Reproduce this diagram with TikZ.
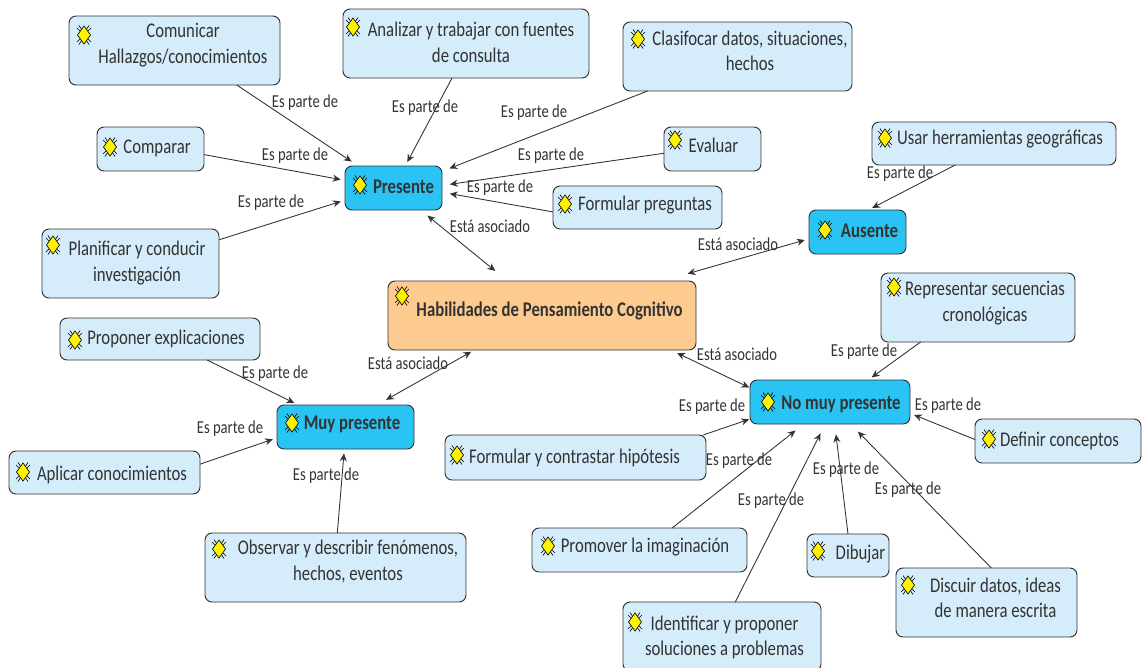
\documentclass[tikz,border=0pt]{standalone}
\usepackage{fontspec}
\setmainfont[FakeStretch=0.8]{Carlito}
\usepackage[x11names]{xcolor}
\usetikzlibrary{arrows.meta}
\usetikzlibrary{shapes.geometric}
\definecolor{leafblue}{HTML}{D5ECFA}
\definecolor{hubblue}{HTML}{29C4F3}
\definecolor{rootorange}{HTML}{FDCB8F}
\definecolor{inkgray}{HTML}{333333}
\tikzset{
    boxsize/.style 2 args={minimum width=#1*0.02cm, minimum height=#2*0.02cm},
    concept/.style={draw=inkgray, line width=0.55pt, rounded corners=4pt, fill=leafblue, inner sep=0pt, outer sep=0pt},
    hub/.style={concept, fill=hubblue},
    root/.style={concept, fill=rootorange},
    boxtext/.style={font=\fontsize{11.9}{14.6}\selectfont, text=inkgray, align=center, inner sep=0pt, yshift=-0.5pt},
    hubtext/.style={boxtext, font=\fontsize{11.9}{14.6}\selectfont\bfseries},
    relation/.style={font=\fontsize{10.4}{12}\selectfont, text=inkgray, inner sep=0pt, yshift=-0.5pt},
    link/.style={draw=inkgray, line width=0.5pt, -{Stealth[length=4.5pt,width=4pt]}, shorten >=2.5pt},
    gaplink/.style={link, shorten >=4.5pt},
    farlink/.style={link, shorten >=6pt},
    twoway/.style={draw=inkgray, line width=0.5pt, {Stealth[length=4.5pt,width=4pt]}-{Stealth[length=4.5pt,width=4pt]}, shorten >=2.5pt, shorten <=2.5pt},
    bug/.pic={
        \draw[black, line width=0.35pt] (-7,-7) -- (7,7) (7,-7) -- (-7,7) (-5,-9.5) -- (-2,-5) (5,-9.5) -- (2,-5) (-5,9.5) -- (-2,5) (5,9.5) -- (2,5);
        \draw[black, line width=0.35pt, fill=yellow] (0,-9) -- (6.5,0) -- (0,9) -- (-6.5,0) -- cycle;
    }
}
\begin{document}
\begin{tikzpicture}[x=0.02cm, y=-0.02cm]
    \useasboundingbox (0,0) rectangle (1143,667);

    \node[root, boxsize={308}{69}, label={[hubtext,shift={(7.5,-5.5)}]center:{Habilidades de Pensamiento Cognitivo}}] (habilidades) at (542,315.5) {};

    \node[hub, boxsize={97}{44}, label={[hubtext,shift={(10,-2)}]center:{Presente}}] (presente) at (393.5,188) {};
    \node[hub, boxsize={97}{44}, label={[hubtext,shift={(12,-2)}]center:{Ausente}}] (ausente) at (857.5,232) {};
    \node[hub, boxsize={137}{44}, label={[hubtext,shift={(6.5,-4)}]center:{Muy presente}}] (muy) at (345.5,427) {};
    \node[hub, boxsize={160}{44}, label={[hubtext,shift={(11,1)}]center:{No muy presente}}] (nomuy) at (830,402) {};

    \node[concept, boxsize={211}{69}, label={[boxtext,shift={(8.5,-6.5)}]center:{Comunicar\\Hallazgos/conocimientos}}] (comunicar) at (174.5,50.5) {};
    \node[concept, boxsize={246}{69}, label={[boxtext,shift={(5,-2)}]center:{Analizar y trabajar con fuentes\\de consulta}}] (analizar) at (466,43.5) {};
    \node[concept, boxsize={229}{69}, label={[boxtext,shift={(12.5,-6.5)}]center:{Clasifocar datos, situaciones,\\hechos}}] (clasificar) at (737.5,56.5) {};
    \node[concept, boxsize={107}{44}, label={[boxtext,shift={(6.5,-1)}]center:{Comparar}}] (comparar) at (150.5,149) {};
    \node[concept, boxsize={97}{44}, label={[boxtext,shift={(1,-5)}]center:{Evaluar}}] (evaluar) at (712.5,149) {};
    \node[concept, boxsize={169}{43}, label={[boxtext,shift={(7.5,-3.5)}]center:{Formular preguntas}}] (formular) at (637.5,207.5) {};
    \node[concept, boxsize={177}{69}, label={[boxtext,shift={(6.5,-1.5)}]center:{Planificar y conducir\\investigación}}] (planificar) at (130.5,263.5) {};
    \node[concept, boxsize={244}{43}, label={[boxtext,shift={(6,-5.5)}]center:{Usar herramientas geográficas}}] (usar) at (994,143.5) {};
    \node[concept, boxsize={194}{69}, label={[boxtext,shift={(7,-5.5)}]center:{Representar secuencias\\cronológicas}}] (representar) at (978,307.5) {};
    \node[concept, boxsize={200}{42}, label={[boxtext,shift={(6,-1)}]center:{Proponer explicaciones}}] (proponer) at (160,339) {};
    \node[concept, boxsize={191}{43}, label={[boxtext,shift={(7.5,1.5)}]center:{Aplicar conocimientos}}] (aplicar) at (104.5,472.5) {};
    \node[concept, boxsize={261}{69}, label={[boxtext,shift={(12.5,-6.5)}]center:{Observar y describir fenómenos,\\hechos, eventos}}] (observar) at (335.5,567.5) {};
    \node[concept, boxsize={166}{44}, label={[boxtext,shift={(1.5,-1)}]center:{Definir conceptos}}] (definir) at (1058,441) {};
    \node[concept, boxsize={261}{45}, label={[boxtext,shift={(-1,-0.5)}]center:{Formular y contrastar hipótesis}}] (hipotesis) at (575.5,457.5) {};
    \node[concept, boxsize={215}{44}, label={[boxtext,shift={(5.5,-4)}]center:{Promover la imaginación}}] (promover) at (639.5,550) {};
    \node[concept, boxsize={82}{43}, label={[boxtext,shift={(12.5,-2.5)}]center:{Dibujar}}] (dibujar) at (848,555.5) {};
    \node[concept, boxsize={181}{69}, label={[boxtext,shift={(9,-5.5)}]center:{Discuir datos, ideas\\de manera escrita}}] (discutir) at (986.5,602.5) {};
    \node[concept, boxsize={198}{69}, label={[boxtext,shift={(2.5,0)}]center:{Identificar y proponer\\soluciones a problemas}}] (identificar) at (722,636.5) {};

    \foreach \px/\py in {84/35, 353/27, 638/39, 110/147, 675/140, 360/185, 565/204, 885/138, 53/245, 825/230, 402/296, 894/287, 75/340, 292/423, 768/402, 989/439, 23/472, 457/455, 219/549, 548/546, 818/551, 908/585, 635/622}
        \pic at (\px,\py) {bug};

    \draw[gaplink] (comunicar.-29) -- (presente.148);
    \draw[link] (analizar.-112) -- (presente.62.4);
    \draw[gaplink] (clasificar.-159.5) -- (presente.19.8);
    \draw[gaplink] (evaluar.-175.3) -- (presente.3.5);
    \draw[gaplink] (formular.-177.6) -- (presente.-5.5);
    \draw[link] (comparar.-6.4) -- (presente.171.8);
    \draw[link] (planificar.15.5) -- (presente.194.5);
    \draw[link] (usar.-151) -- (ausente.64.5);
    \draw[link] (proponer.-24) -- (muy.155.6);
    \draw[link] (aplicar.5.7) -- (muy.189.4);
    \draw[link] (observar.87.5) -- (muy.-93);
    \draw[link] (representar.-149.3) -- (nomuy.30.7);
    \draw[link] (definir.179.3) -- (nomuy.-8.2);
    \draw[link, shorten >=0.5pt] (hipotesis.10.7) -- (nomuy.192.7);
    \draw[farlink] (promover.34) -- (nomuy.-140);
    \draw[farlink] (identificar.69.4) -- (nomuy.-102.8);
    \draw[farlink] (dibujar.90) -- (nomuy.-78.7);
    \draw[farlink] (discutir.82.6) -- (nomuy.-47.7);
    \draw[twoway, shorten <=9pt, shorten >=5pt] (habilidades.135.4) -- (presente.-39);
    \draw[twoway, shorten <=15pt] (habilidades.16) -- (ausente.188.2);
    \draw[twoway, shorten <=2pt, shorten >=6pt] (habilidades.-153) -- (muy.35.8);
    \draw[twoway, shorten <=4pt, shorten >=0.5pt] (habilidades.-15) -- (nomuy.170.8);

    \foreach \px/\py/\lname in {305/102/a, 425/107/b, 534/112/c, 295/155/d, 551/155/e, 500/187/f, 271/202/g, 900/173/h, 275/373/i, 230/428/j, 326/475/k, 864/351/l, 712/406/m, 948/405/n, 739/460/o, 771/500/p, 846/469/q, 908/489/r}
        \node[relation] (parte\lname) at (\px,\py) {Es parte de};
    \foreach \px/\py/\lname in {490/225/a, 738/243/b, 408/362/c, 737/353/d}
        \node[relation] (asociado\lname) at (\px,\py) {Está asociado};
\end{tikzpicture}
\end{document}
